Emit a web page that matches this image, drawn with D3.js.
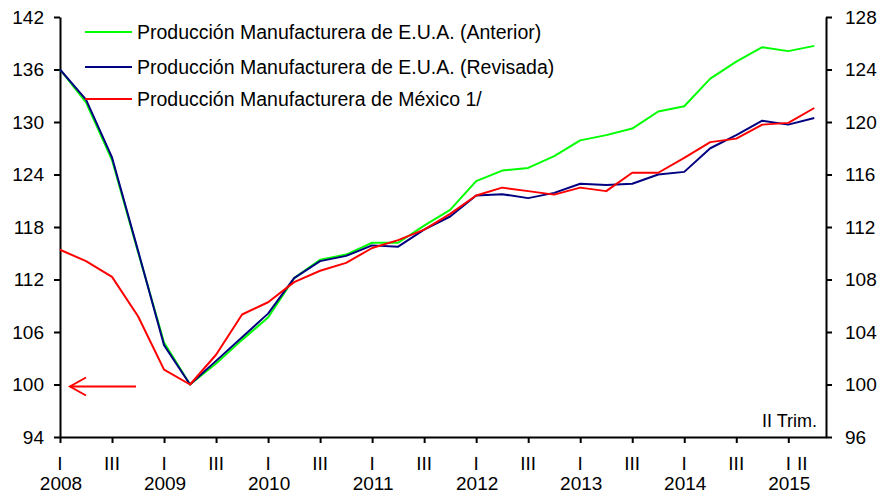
<!DOCTYPE html>
<html>
<head>
<meta charset="utf-8">
<script src="https://cdn.jsdelivr.net/npm/d3@7"></script>
<style>
    body { margin: 0; background: white; }
    svg { display: block; font-family: Arial, 'Liberation Sans', sans-serif; }
    .axis path, .axis line { stroke: black; stroke-width: 2; }
    .axis text { font-size: 19px; fill: black; }
    .label { font-size: 19px; fill: black; }
    #legend text { font-size: 19.5px; }
</style>
</head>
<body>
<div id="chart"></div>
<script>
// quarterly, 2008 I .. 2015 II (index 2009 II = 100)
var years = ['2008', '2009', '2010', '2011', '2012', '2013', '2014', '2015']
var quarterNames = ['I', 'II', 'III', 'IV']

var usAnterior = [124.0, 121.5, 117.1, 110.1, 103.2, 100.0, 101.6, 103.4, 105.1, 108.1,
    109.5, 109.9, 110.8, 110.8, 112.1, 113.3, 115.5, 116.3, 116.5, 117.4,
    118.6, 119.0, 119.5, 120.8, 121.2, 123.3, 124.6, 125.7, 125.4, 125.8]
var usRevisada = [124.0, 121.7, 117.3, 110.2, 103.0, 100.0, 101.8, 103.6, 105.4, 108.1,
    109.4, 109.8, 110.6, 110.5, 111.8, 112.8, 114.4, 114.5, 114.2, 114.6,
    115.3, 115.2, 115.3, 116.0, 116.2, 118.0, 119.0, 120.1, 119.8, 120.3]
var mexico = [115.4, 114.1, 112.3, 107.8, 101.7, 100.0, 103.4, 108.0, 109.4, 111.7,
    113.0, 113.9, 115.6, 116.5, 117.7, 119.5, 121.6, 122.5, 122.1, 121.7,
    122.5, 122.1, 124.2, 124.2, 125.9, 127.7, 128.1, 129.7, 129.9, 131.6]

var leftTicks = [94, 100, 106, 112, 118, 124, 130, 136, 142]
var rightTicks = [96, 100, 104, 108, 112, 116, 120, 124, 128]

var series = [
    { name: 'Producción Manufacturera de E.U.A. (Anterior)', values: usAnterior, axis: 'right', color: '#00ff00' },
    { name: 'Producción Manufacturera de E.U.A. (Revisada)', values: usRevisada, axis: 'right', color: '#000080' },
    { name: 'Producción Manufacturera de México 1/', values: mexico, axis: 'left', color: '#ff0000' }
]
var periodNote = 'II Trim.'

var layout = { width: 880, height: 496, left: 60, right: 826, top: 17, bottom: 437 }

var svg = d3.select('#chart').append('svg')
    .attr('width', layout.width)
    .attr('height', layout.height)

var x = d3.scaleLinear().domain([0, 29.45]).range([layout.left, layout.right])
var yLeft = d3.scaleLinear().domain([94, 142]).range([layout.bottom, layout.top])
var yRight = d3.scaleLinear().domain([96, 128]).range([layout.bottom, layout.top])

// axes
svg.append('g')
    .attr('class', 'axis')
    .attr('transform', 'translate(' + layout.left + ',0)')
    .call(d3.axisLeft(yLeft).tickValues(leftTicks).tickSize(6).tickSizeOuter(0).tickPadding(10))

svg.append('g')
    .attr('class', 'axis')
    .attr('transform', 'translate(' + layout.right + ',0)')
    .call(d3.axisRight(yRight).tickValues(rightTicks).tickSize(6).tickSizeOuter(0).tickPadding(13))

var bottomTicks = d3.range(0, mexico.length, 2)
svg.append('g')
    .attr('class', 'axis')
    .attr('transform', 'translate(0,' + layout.bottom + ')')
    .call(d3.axisBottom(x).tickValues(bottomTicks).tickSize(6).tickSizeOuter(0).tickFormat(''))

// quarter and year labels under the axis
var quarterIdx = bottomTicks.concat([mexico.length - 1])
svg.selectAll('text.quarter')
    .data(quarterIdx)
    .enter().append('text')
    .attr('class', 'label quarter')
    .attr('text-anchor', 'middle')
    .attr('x', function (d) { return d === mexico.length - 1 ? x(d) - 12 : x(d) })
    .attr('y', 470)
    .text(function (d) { return quarterNames[d % 4] })

svg.selectAll('text.year')
    .data(years)
    .enter().append('text')
    .attr('class', 'label year')
    .attr('text-anchor', 'middle')
    .attr('x', function (d, i) { return x(i * 4) + 1 })
    .attr('y', 490)
    .text(function (d) { return d })

svg.append('text')
    .attr('class', 'label')
    .attr('text-anchor', 'end')
    .attr('x', layout.right - 9)
    .attr('y', 427)
    .style('font-size', '18px')
    .text(periodNote)

// lines
var lines = svg.append('g').attr('id', 'lines')
series.forEach(function (s) {
    var yScale = s.axis === 'left' ? yLeft : yRight
    var line = d3.line()
        .x(function (d, i) { return x(i) })
        .y(function (d) { return yScale(d) })
    lines.append('path')
        .datum(s.values)
        .attr('fill', 'none')
        .attr('stroke', s.color)
        .attr('stroke-width', 2)
        .attr('stroke-linejoin', 'round')
        .attr('d', line)
})

// legend
var legend = svg.append('g').attr('id', 'legend')
var legendRows = [32, 67, 99]
series.forEach(function (s, i) {
    legend.append('line')
        .attr('x1', 85).attr('x2', 132)
        .attr('y1', legendRows[i]).attr('y2', legendRows[i])
        .attr('stroke', s.color)
        .attr('stroke-width', 2)
    legend.append('text')
        .attr('class', 'label')
        .attr('x', 137)
        .attr('y', legendRows[i])
        .attr('dy', '0.35em')
        .text(s.name)
})

// arrow: Mexico reads on the left axis
var arrowY = yLeft(100) + 2
var arrow = svg.append('g').attr('stroke', '#ff0000').attr('stroke-width', 2).attr('fill', 'none')
arrow.append('line').attr('x1', 70).attr('x2', 136).attr('y1', arrowY).attr('y2', arrowY)
arrow.append('path').attr('d', 'M86,' + (arrowY - 9) + 'L70,' + arrowY + 'L86,' + (arrowY + 9))
</script>
</body>
</html>
